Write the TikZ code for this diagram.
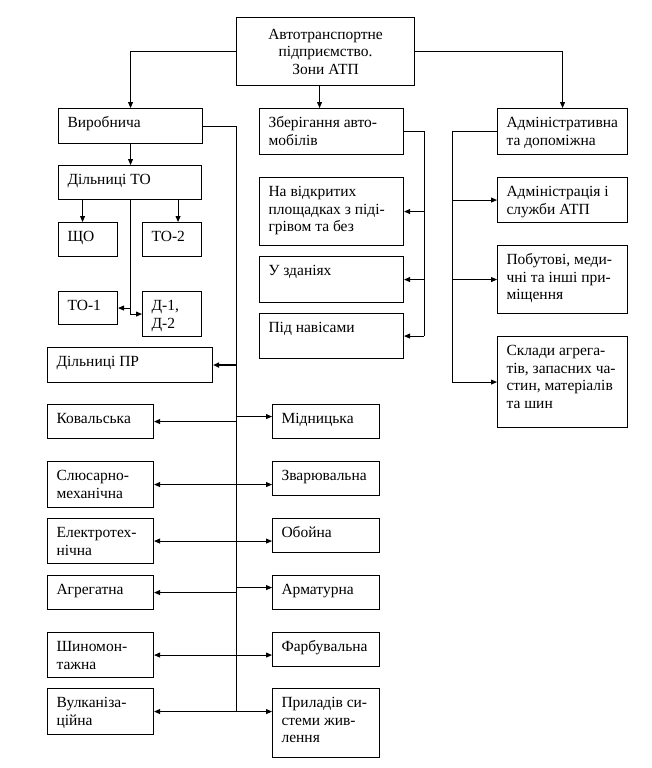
\documentclass[tikz,border=0pt]{standalone}
\usepackage{fontspec}
\setmainfont{Liberation Serif}
\usetikzlibrary{arrows.meta}
\newcommand\bx[6]{%
  \node[box] (#1) at (#2,#3) {\parbox[c][\dimexpr #5pt-#3pt\relax][t]{\dimexpr #4pt-#2pt\relax}{\fontsize{15.5}{17.5}\selectfont\raggedright\leftskip=9pt\vspace*{7pt}\strut #6}};}
\newcommand\bxc[6]{%
  \node[box] (#1) at (#2,#3) {\parbox[c][\dimexpr #5pt-#3pt\relax][c]{\dimexpr #4pt-#2pt\relax}{\fontsize{15.5}{17.5}\selectfont\centering #6\par}};}
\tikzset{
  box/.style={draw, line width=1.1pt, inner sep=0pt, anchor=north west},
  wire/.style={line width=0.9pt},
  arr/.style={wire, -{Triangle[length=6pt,width=5pt]}},
  arrthick/.style={line width=1.6pt, -{Triangle[length=6pt,width=5pt]}},
  arr2/.style={wire, {Triangle[length=6pt,width=5pt]}-{Triangle[length=6pt,width=5pt]}}
}
\begin{document}
\begin{tikzpicture}[x=1pt,y=-1pt]
\useasboundingbox[fill=white] (0,0) rectangle (651,768);
\bxc{top}{236}{17}{414}{85}{Автотранспортне\\підприємство.\\Зони АТП}
\bx{vyr}{58}{108}{202}{143}{Виробнича}
\bx{zb}{259}{108}{403}{154}{Зберігання авто-\\мобілів}
\bx{adm}{497}{108}{627}{154}{Адміністративна\\та допоміжна}
\bx{dto}{58}{165}{201}{199}{Дільниці ТО}
\bx{shcho}{58}{222}{117}{256}{ЩО}
\bx{to2}{142}{222}{201}{256}{ТО-2}
\bx{to1}{58}{291}{117}{324}{ТО-1}
\bx{d12}{142}{291}{201}{336}{Д-1,\\Д-2}
\bx{vidkr}{259}{177}{403}{245}{На відкритих\\площадках з піді-\\грівом та без}
\bx{zd}{259}{256}{403}{302}{У зданіях}
\bx{pid}{259}{313}{403}{358}{Під навісами}
\bx{admsl}{497}{177}{627}{222}{Адміністрація і\\служби АТП}
\bx{pob}{497}{245}{627}{313}{Побутові, меди-\\чні та інші при-\\міщення}
\bx{skl}{497}{336}{627}{427}{Склади агрега-\\тів, запасних ча-\\стин, матеріалів\\та шин}
\bx{pr}{47}{347}{212}{382}{Дільниці ПР}
\bx{kov}{47}{404}{153}{438}{Ковальська}
\bx{mid}{272}{404}{379}{438}{Мідницька}
\bx{slus}{47}{461}{153}{507}{Слюсарно-\\механічна}
\bx{zvar}{272}{461}{379}{495}{Зварювальна}
\bx{el}{47}{518}{153}{563}{Електротех-\\нічна}
\bx{ob}{272}{518}{379}{552}{Обойна}
\bx{agr}{47}{575}{153}{609}{Агрегатна}
\bx{arm}{272}{575}{379}{609}{Арматурна}
\bx{shyn}{47}{632}{153}{677}{Шиномон-\\тажна}
\bx{farb}{272}{632}{379}{666}{Фарбувальна}
\bx{vulk}{47}{688}{153}{734}{Вулканіза-\\ційна}
\bx{prl}{272}{688}{379}{757}{Приладів си-\\стеми жив-\\лення}
% top connectors
\draw[arr] (top.west) -| (vyr.north);
\draw[arr] (top.east) -| (adm.north);
\coordinate (tz) at ([xshift=-6pt]top.south);
\draw[arr] (tz) -- (tz |- zb.north);
% Vyrobnycha
\draw[arr] (vyr.south) -- (vyr.south |- dto.north);
\coordinate (a1) at ([xshift=-5.5pt]shcho.north);
\draw[arr] (a1 |- dto.south) -- (a1);
\coordinate (a2) at ([xshift=6pt]to2.north);
\draw[arr] (a2 |- dto.south) -- (a2);
\draw[arr] (dto.south) |- (to1.east);
\draw[arr] (dto.south) |- (d12.west);
% PR bus
\coordinate (busB) at (236,711);
\draw[wire] (vyr.east) -| (busB);
\draw[arrthick] (busB |- pr.east) -- (pr.east);
\draw[arr] (busB |- kov.east) -- (kov.east);
\coordinate (m1) at ([yshift=5pt]mid.west);
\draw[arr] (busB |- m1) -- (m1);
\draw[arr2] (slus.east) -- (slus.east -| zvar.west);
\draw[arr2] (el.east) -- (el.east -| ob.west);
\draw[arr] (busB |- agr.east) -- (agr.east);
\coordinate (m2) at ([yshift=5pt]arm.west);
\draw[arr] (busB |- m2) -- (m2);
\draw[arr2] (shyn.east) -- (shyn.east -| farb.west);
\draw[arr2] (vulk.east) -- (vulk.east -| prl.west);
% storage bus
\coordinate (zbx) at (424,336);
\draw[wire] (zb.east) -| (zbx |- pid.east);
\draw[arr] (zbx |- vidkr.east) -- (vidkr.east);
\draw[arr] (zbx |- zd.east) -- (zd.east);
\draw[arr] (zbx |- pid.east) -- (pid.east);
% admin bus
\coordinate (abx) at (452,382);
\draw[wire] (adm.west) -| (abx |- skl.west);
\draw[arr] (abx |- admsl.west) -- (admsl.west);
\draw[arr] (abx |- pob.west) -- (pob.west);
\draw[arr] (abx |- skl.west) -- (skl.west);
\end{tikzpicture}
\end{document}
